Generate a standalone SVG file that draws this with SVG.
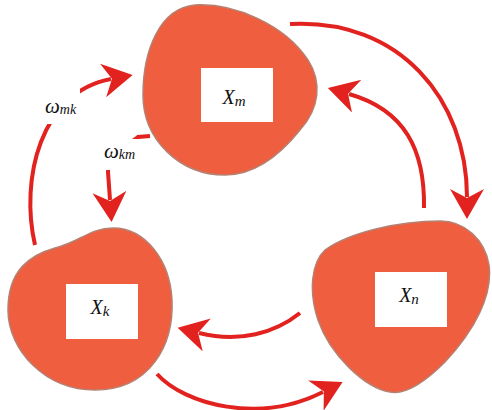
<svg xmlns="http://www.w3.org/2000/svg" width="492" height="410" viewBox="0 0 492 410">
  <style>
    .blob { fill: #EE5E3F; stroke: #B58172; stroke-width: 1.5; }
    .box { fill: #FFFFFF; }
    .arc { fill: none; stroke: #E2221F; stroke-width: 4; stroke-linecap: butt; marker-end: url(#head); }
    .lbl { font-family: "Liberation Serif", "Times New Roman", serif; font-style: italic; fill: #111111; }
  </style>
  <defs>
    <marker id="head" markerUnits="userSpaceOnUse" markerWidth="40" markerHeight="40" refX="8" refY="17" orient="auto">
      <path d="M0,0 L30,17 L0,34 L9,17 Z" fill="#E2221F"/>
    </marker>
  </defs>
  <rect width="492" height="410" fill="#FFFFFF"/>

  <g id="connectors">
    <path class="arc" d="M290,24 C400,18 467,100 467,197"/>
    <path class="arc" d="M424,208 C425,150 405,110 349,94"/>
    <path class="arc" d="M35,245 C20,180 40,92 111,79"/>
    <path class="arc" d="M150,136 L138,137 C128,146 108,150 108,172 L110,200"/>
    <path class="arc" d="M300,313 C275,333 240,343 199,333"/>
    <path class="arc" d="M157,374 C185,405 260,424 323,392"/>
  </g>

  <g id="node-xm">
    <path class="blob" d="M195,5 C235,3 285,25 308,60 C322,82 320,108 300,130 C280,155 255,175 225,175 C180,175 143,140 143,95 C143,50 160,8 195,5 Z"/>
    <rect class="box" x="201" y="68" width="72" height="54"/>
    <text class="lbl" x="234" y="104" font-size="20" text-anchor="middle">X<tspan font-size="15" dy="2">m</tspan></text>
  </g>

  <g id="node-xn">
    <path class="blob" d="M440,221 C465,221 485,240 489,265 C493,295 475,330 445,362 C425,382 405,395 390,392 C365,388 330,355 318,320 C308,290 312,262 325,250 C350,232 400,221 440,221 Z"/>
    <rect class="box" x="375" y="272" width="72" height="55"/>
    <text class="lbl" x="409" y="302" font-size="20" text-anchor="middle">X<tspan font-size="15" dy="2">n</tspan></text>
  </g>

  <g id="node-xk">
    <path class="blob" d="M113,228 C145,228 170,260 172,300 C174,345 150,390 95,390 C45,390 8,350 8,310 C8,270 30,255 55,248 C80,242 90,228 113,228 Z"/>
    <rect class="box" x="66" y="284" width="72" height="55"/>
    <text class="lbl" x="100" y="314" font-size="20" text-anchor="middle">X<tspan font-size="15" dy="2">k</tspan></text>
  </g>

  <g id="label-wmk">
    <rect class="box" x="0" y="88" width="80" height="36"/>
    <text class="lbl" x="45" y="113" font-size="21">ω<tspan font-size="14" dy="1">mk</tspan></text>
  </g>

  <g id="label-wkm">
    <rect class="box" x="66" y="139" width="80" height="31"/>
    <text class="lbl" x="104" y="158" font-size="21">ω<tspan font-size="14" dy="1">km</tspan></text>
  </g>
</svg>
